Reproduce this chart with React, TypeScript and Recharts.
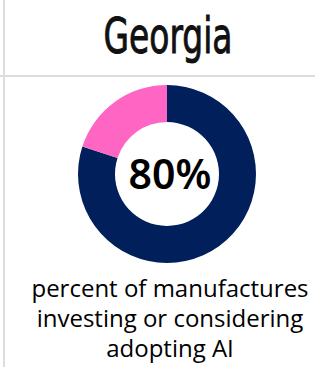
import { PieChart, Pie, Cell } from 'recharts';

const title = 'Georgia';
const segmentNames = ['Investing or considering AI', 'Other'];
const segmentValues = [80, 20];
const segmentColors = ['#011f5b', '#ff66c4'];
const centerLabel = '80%';
const captionLines = ['percent of manufactures', 'investing or considering', 'adopting AI'];

const data = segmentNames.map((name, i) => ({ name, value: segmentValues[i] }));

export default function App() {
  return (
    <div style={{ position: 'absolute', left: 0, top: 0, width: 315, height: 367, background: '#fff', overflow: 'hidden' }}>
      {/* Frame lines */}
      <div style={{ position: 'absolute', left: 3, top: 0, width: 2, height: 367, background: '#dddddd' }} />
      <div style={{ position: 'absolute', left: 0, top: 75, width: 315, height: 2, background: '#dddddd' }} />

      {/* Title */}
      <svg width={315} height={75} style={{ position: 'absolute', left: 0, top: 0 }}>
        <text
          x={168}
          y={53}
          textAnchor="middle"
          textLength={129}
          lengthAdjust="spacingAndGlyphs"
          fontFamily="'DejaVu Sans Condensed', sans-serif"
          fontWeight={400}
          fontSize={50}
          fill="#111"
          stroke="#111"
          strokeWidth={0.9}
        >
          {title}
        </text>
      </svg>

      {/* Donut */}
      <div style={{ position: 'absolute', left: 0, top: 0 }}>
        <PieChart width={315} height={367} margin={{ top: 0, right: 0, bottom: 0, left: 0 }}>
          <Pie
            data={data}
            dataKey="value"
            cx={167}
            cy={174}
            innerRadius={52}
            outerRadius={89}
            startAngle={90}
            endAngle={-270}
            stroke="none"
            isAnimationActive={false}
          >
            {data.map((entry, index) => (
              <Cell key={`cell-${index}`} fill={segmentColors[index]} />
            ))}
          </Pie>
        </PieChart>
      </div>

      {/* Center value */}
      <svg width={315} height={367} style={{ position: 'absolute', left: 0, top: 0, pointerEvents: 'none' }}>
        <text
          x={170}
          y={189}
          textAnchor="middle"
          fontFamily="'Noto Sans', 'Open Sans', sans-serif"
          fontWeight={600}
          fontSize={41}
          fill="#000"
        >
          {centerLabel}
        </text>
      </svg>

      {/* Caption */}
      <div
        style={{
          position: 'absolute',
          left: 10,
          top: 273,
          width: 320,
          textAlign: 'center',
          fontFamily: "'Open Sans', sans-serif",
          fontSize: 24,
          lineHeight: '30px',
          color: '#000',
        }}
      >
        {captionLines.map((line) => (
          <div key={line}>{line}</div>
        ))}
      </div>
    </div>
  );
}
